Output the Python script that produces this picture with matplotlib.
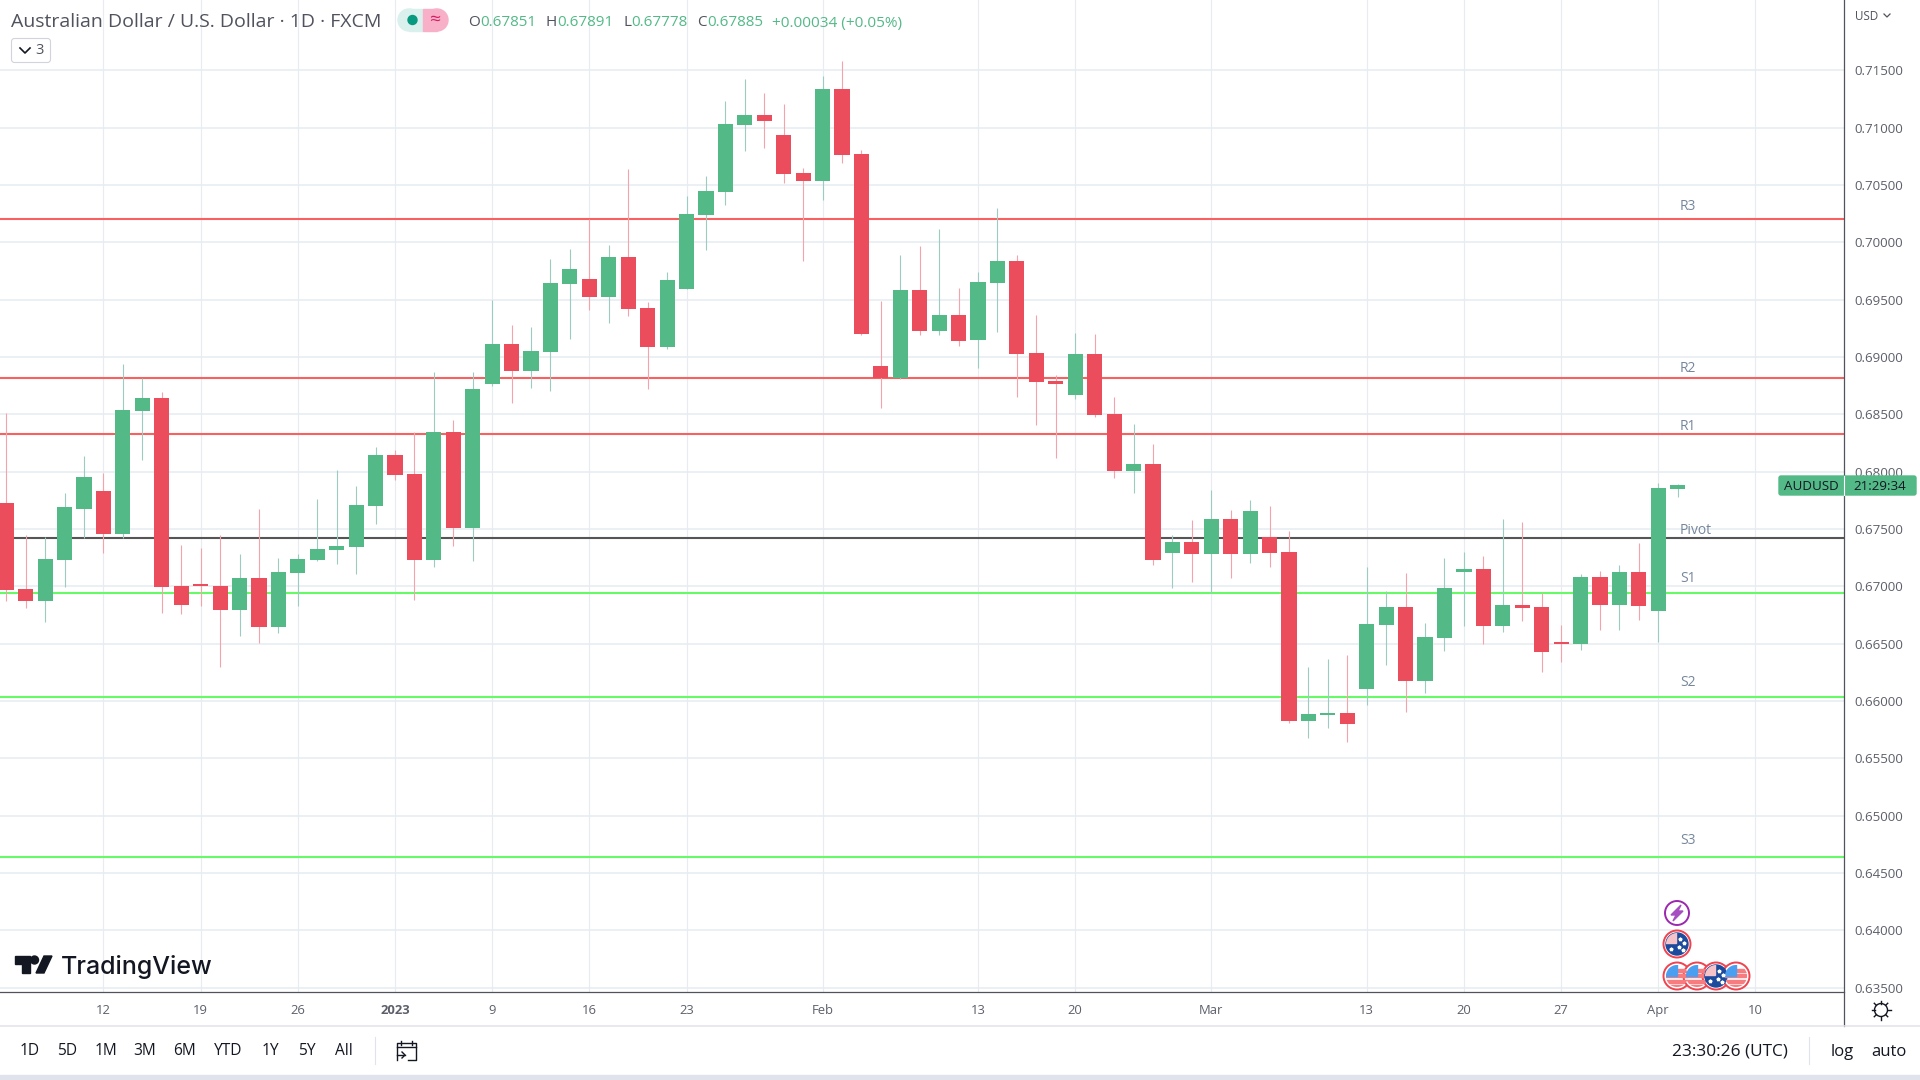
"""AUD/USD daily candles with pivot levels, TradingView look."""

import matplotlib

matplotlib.use("Agg")

import matplotlib.pyplot as plt
import numpy as np
import pandas as pd
from matplotlib.patches import Circle, FancyBboxPatch, Polygon, Rectangle

plt.rcParams["font.family"] = ["Open Sans", "DejaVu Sans"]

first_session = "2022-12-05"

opens = [
    0.67725, 0.66979, 0.66874, 0.67231, 0.67676, 0.67830, 0.67458, 0.68530, 0.68641, 0.67003,
    0.67012, 0.67003, 0.66796, 0.67075, 0.66646, 0.67117, 0.67231, 0.67318, 0.67345, 0.67701,
    0.68146, 0.67980, 0.67231, 0.68347, 0.67509, 0.68764, 0.69113, 0.68878, 0.69047, 0.69635,
    0.69680, 0.69524, 0.69872, 0.69428, 0.69086, 0.69593, 0.70239, 0.70437, 0.71023, 0.71110,
    0.70935, 0.70605, 0.70533, 0.71338, 0.70770, 0.68920, 0.68815, 0.69584, 0.69227, 0.69365,
    0.69149, 0.69644, 0.69836, 0.69035, 0.68794, 0.68668, 0.69026, 0.68503, 0.68005, 0.68068,
    0.67291, 0.67387, 0.67282, 0.67587, 0.67282, 0.67428, 0.67300, 0.65826, 0.65880, 0.65898,
    0.66105, 0.66664, 0.66820, 0.66177, 0.66550, 0.67126, 0.67153, 0.66655, 0.66838, 0.66820,
    0.66517, 0.66493, 0.67084, 0.66838, 0.67126, 0.66787, 0.67851,
]
highs = [
    0.68509, 0.67450, 0.67430, 0.67812, 0.68134, 0.67989, 0.68938, 0.68818, 0.68698, 0.67360,
    0.67330, 0.67450, 0.67282, 0.67674, 0.67249, 0.67285, 0.67764, 0.68014, 0.67872, 0.68215,
    0.68185, 0.68344, 0.68869, 0.68449, 0.68869, 0.69497, 0.69278, 0.69260, 0.69854, 0.69941,
    0.70203, 0.69977, 0.70638, 0.69479, 0.69740, 0.70404, 0.70578, 0.71233, 0.71425, 0.71302,
    0.71206, 0.70647, 0.71446, 0.71581, 0.70803, 0.69488, 0.69890, 0.69968, 0.70116, 0.69602,
    0.69740, 0.70299, 0.69890, 0.69365, 0.68839, 0.69209, 0.69200, 0.68650, 0.68416, 0.68245,
    0.67450, 0.67578, 0.67839, 0.67662, 0.67752, 0.67698, 0.67482, 0.66297, 0.66366, 0.66402,
    0.67171, 0.66961, 0.67117, 0.66682, 0.67249, 0.67300, 0.67267, 0.67587, 0.67560, 0.66940,
    0.66664, 0.67105, 0.67135, 0.67186, 0.67378, 0.67899, 0.67891,
]
lows = [
    0.66874, 0.66814, 0.66691, 0.66991, 0.67420, 0.67291, 0.67420, 0.68101, 0.66769, 0.66760,
    0.66829, 0.66297, 0.66568, 0.66507, 0.66595, 0.66829, 0.67220, 0.67195, 0.67108, 0.67542,
    0.67930, 0.66883, 0.67171, 0.67354, 0.67222, 0.68750, 0.68599, 0.68728, 0.68704, 0.69158,
    0.69410, 0.69296, 0.69356, 0.68720, 0.69065, 0.69593, 0.69932, 0.70326, 0.70797, 0.70821,
    0.70518, 0.69836, 0.70368, 0.70692, 0.69191, 0.68554, 0.68806, 0.69191, 0.69191, 0.69095,
    0.68905, 0.69218, 0.68650, 0.68407, 0.68119, 0.68629, 0.68479, 0.67944, 0.67812, 0.67189,
    0.66988, 0.67039, 0.66946, 0.67075, 0.67204, 0.67171, 0.65805, 0.65679, 0.65766, 0.65643,
    0.65967, 0.66315, 0.65901, 0.66072, 0.66438, 0.66655, 0.66499, 0.66604, 0.66700, 0.66255,
    0.66342, 0.66447, 0.66622, 0.66622, 0.66709, 0.66517, 0.67778,
]
closes = [
    0.66970, 0.66874, 0.67240, 0.67692, 0.67953, 0.67458, 0.68536, 0.68641, 0.66997, 0.66838,
    0.67000, 0.66796, 0.67075, 0.66646, 0.67126, 0.67240, 0.67327, 0.67354, 0.67710, 0.68146,
    0.67971, 0.67231, 0.68347, 0.67509, 0.68719, 0.69113, 0.68878, 0.69053, 0.69644, 0.69767,
    0.69524, 0.69872, 0.69419, 0.69086, 0.69671, 0.70248, 0.70446, 0.71032, 0.71110, 0.71059,
    0.70596, 0.70533, 0.71338, 0.70761, 0.69200, 0.68815, 0.69584, 0.69227, 0.69365, 0.69140,
    0.69653, 0.69836, 0.69026, 0.68783, 0.68764, 0.69026, 0.68494, 0.68005, 0.68068, 0.67231,
    0.67387, 0.67282, 0.67587, 0.67282, 0.67656, 0.67291, 0.65826, 0.65889, 0.65898, 0.65802,
    0.66673, 0.66820, 0.66177, 0.66559, 0.66988, 0.67153, 0.66655, 0.66838, 0.66814, 0.66430,
    0.66493, 0.67084, 0.66838, 0.67126, 0.66829, 0.67857, 0.67885,
]

level_names = ["R3", "R2", "R1", "Pivot", "S1", "S2", "S3"]
level_values = [0.70203, 0.68815, 0.68329, 0.67422, 0.66943, 0.66036, 0.64643]
level_colors = ["#f96060", "#f96060", "#f96060", "#555555", "#66fa66", "#66fa66", "#66fa66"]
level_label_y = [206, 368, 426, 531, 578, 682, 841]

price_ticks = [0.635, 0.64, 0.645, 0.65, 0.655, 0.66, 0.665, 0.67, 0.675, 0.68,
               0.685, 0.69, 0.695, 0.70, 0.705, 0.71, 0.715]
tick_dates = ["2022-12-12", "2022-12-19", "2022-12-26", "2023-01-02", "2023-01-09",
              "2023-01-16", "2023-01-23", "2023-02-01", "2023-02-13", "2023-02-20",
              "2023-03-01", "2023-03-13", "2023-03-20", "2023-03-27", "2023-04-03",
              "2023-04-10"]
tick_labels = ["12", "19", "26", "2023", "9", "16", "23", "Feb", "13", "20",
               "Mar", "13", "20", "27", "Apr", "10"]
range_buttons = ["1D", "5D", "1M", "3M", "6M", "YTD", "1Y", "5Y", "All"]
range_button_x = [30, 67, 106, 145, 184, 228, 270, 307, 344]

UP = "#53b987"
DOWN = "#eb4d5c"
UP_WICK = "#9ccbc0"
DOWN_WICK = "#f5a3ab"
GRID = "#e6ecf2"
INK = "#131722"
AXIS_TEXT = "#5d606b"

o = np.array(opens)
h = np.array(highs)
l = np.array(lows)
c = np.array(closes)
idx = np.arange(len(o))
up = c >= o
sessions = pd.bdate_range(first_session, periods=len(o) + 20)

fig = plt.figure(figsize=(19.2, 10.8), dpi=100, facecolor="white")
ax = fig.add_axes([0, 88 / 1080, 1843.5 / 1920, 992 / 1080])
ax.set_ylim(0.63463, 0.72112)

# session 0 sits at 6.3 px, 19.435 px per session
ax.set_xlim(-6.3 / 19.435, (1843.5 - 6.3) / 19.435)

tick_pos = [sessions.get_loc(pd.Timestamp(d)) for d in tick_dates]
ax.set_xticks(tick_pos)
ax.set_xticklabels(tick_labels, fontsize=9.4, color=AXIS_TEXT)
for lab, name in zip(ax.get_xticklabels(), tick_labels):
    if name == "2023":
        lab.set_fontweight("bold")
ax.set_yticks(price_ticks)
ax.set_yticklabels([f"{p:.5f}" for p in price_ticks], fontsize=9.6, color=AXIS_TEXT)
ax.yaxis.tick_right()
ax.tick_params(axis="both", length=0)
ax.tick_params(axis="x", pad=8.5)
ax.tick_params(axis="y", pad=8)
ax.grid(True, axis="y", color=GRID, linewidth=1.1, zorder=0)
ax.grid(True, axis="x", color=GRID, linewidth=0.8, zorder=0)
ax.set_axisbelow(True)
for name in ["top", "left", "right"]:
    ax.spines[name].set_visible(False)
ax.spines["bottom"].set_color("#50535e")
ax.spines["bottom"].set_linewidth(0.9)

for value, color in zip(level_values, level_colors):
    ax.axhline(value, color=color, linewidth=1.5, zorder=1)

ax.vlines(idx[up], l[up], h[up], color=UP_WICK, linewidth=0.8, zorder=2)
ax.vlines(idx[~up], l[~up], h[~up], color=DOWN_WICK, linewidth=0.8, zorder=2)
body_low = np.minimum(o, c)
body_height = np.maximum(np.abs(c - o), 0.00016)
ax.bar(idx, body_height, bottom=body_low, width=0.78, zorder=3,
       color=[UP if u else DOWN for u in up], linewidth=0)

# everything around the plot is placed in screen pixels
ui = fig.add_axes([0, 0, 1, 1], facecolor="none", zorder=5)
ui.set_xlim(0, 1920)
ui.set_ylim(1080, 0)
ui.axis("off")


def label(x, y, s, size=9.4, color=INK, ha="center", **kw):
    ui.text(x, y, s, fontsize=size, color=color, ha=ha, va="center", **kw)


def badge(x, y, r=13.5):
    ring = Circle((x, y), r, facecolor="white", edgecolor="#f0434f", linewidth=1.4, zorder=3)
    ui.add_patch(ring)
    return Circle((x, y), r - 2.5, transform=ui.transData)


def us_flag(x, y):
    clip = badge(x, y)
    for k in range(3):
        bar = Rectangle((x - 12, y - 2 + k * 5.5), 24, 3, color="#f77c80", zorder=4)
        ui.add_patch(bar)
        bar.set_clip_path(clip)
    bar = Rectangle((x, y - 7), 12, 3, color="#f77c80", zorder=4)
    ui.add_patch(bar)
    bar.set_clip_path(clip)
    canton = Rectangle((x - 12, y - 12), 11.5, 11.5, color="#4a9ff0", zorder=5)
    ui.add_patch(canton)
    canton.set_clip_path(clip)


def au_flag(x, y):
    clip = badge(x, y)
    field = Circle((x, y), 11, color="#1c4a9c", zorder=4)
    ui.add_patch(field)
    corner = Rectangle((x - 12, y - 12), 10.5, 10.5, color="#f6c3c9", zorder=5)
    ui.add_patch(corner)
    corner.set_clip_path(clip)
    ui.plot([x + 3, x + 7, x + 2, x + 6, x - 6], [y - 5, y - 1, y + 3, y + 6, y + 5],
            ls="none", marker="*", ms=2.6, color="white", zorder=6)


# header
label(11, 22, "Australian Dollar / U.S. Dollar · 1D · FXCM", size=14, color="#50535e", ha="left")
ui.add_patch(Circle((409, 20), 11, color="#d9f0ec", zorder=1))
ui.add_patch(Rectangle((409, 9), 14, 22, color="#d9f0ec", zorder=1))
ui.add_patch(Circle((437, 20), 11, color="#f7b0c8", zorder=2))
ui.add_patch(Rectangle((423, 9), 14, 22, color="#f7b0c8", zorder=2))
ui.add_patch(Circle((412.5, 20), 4.5, color="#089981", zorder=3))
label(435, 20, "≈", size=14, color="#d81b60", zorder=3)

for letter, value, x_value in [("O", "0.67851", 480.6), ("H", "0.67891", 557.7),
                               ("L", "0.67778", 631.7), ("C", "0.67885", 706.8)]:
    label(x_value - 0.5, 23, letter, size=11, color="#50535e", ha="right")
    label(x_value, 23, value, size=11, color=UP, ha="left")
label(772, 23, "+0.00034 (+0.05%)", size=11.1, color=UP, ha="left")

ui.add_patch(FancyBboxPatch((11.5, 38.5), 39, 24, boxstyle="round,pad=0,rounding_size=3",
                            facecolor="white", edgecolor="#d1d4dc", linewidth=0.8))
ui.plot([20, 25, 30], [48, 53, 48], color=INK, linewidth=1.2)
label(40, 50, "3", size=10.5, color="#50535e")

# price axis furniture
ui.plot([1843.5, 1843.5], [0, 1026], color="#50535e", linewidth=0.9)
label(1855, 16, "USD", size=8.4, color="#50535e", ha="left")
ui.plot([1884, 1887, 1890], [14, 17, 14], color="#50535e", linewidth=0.9)
for name, y in zip(level_names, level_label_y):
    label(1680, y, name, size=10, color="#76879b", ha="left")

ui.add_patch(FancyBboxPatch((1779, 476), 137, 19, boxstyle="round,pad=0,rounding_size=2", color=UP, zorder=6))
ui.plot([1843.5, 1843.5], [476, 495], color="white", linewidth=0.8, zorder=7)
label(1811, 486, "AUDUSD", size=9.6, zorder=7)
label(1880, 486, "21:29:34", size=9.6, zorder=7)

# event badges
ui.add_patch(Circle((1677, 913), 12, facecolor="white", edgecolor="#9c27b0", linewidth=1.4, zorder=3))
ui.add_patch(Polygon([(1681, 905), (1671, 915), (1676, 915), (1673, 921), (1683, 911), (1678, 911)],
                     color="#a64fc0", zorder=4))
au_flag(1677, 944)
us_flag(1677, 976)
us_flag(1697, 976)
au_flag(1716, 976)
us_flag(1736, 976)

# logo
ui.add_patch(Polygon([(15, 956), (30, 956), (30, 973), (22, 973), (22, 964), (15, 964)], color=INK))
ui.add_patch(Circle((34.5, 960), 4, color=INK))
ui.add_patch(Polygon([(44, 956), (52, 956), (44, 973), (36, 973)], color=INK))
label(61, 967, "TradingView", size=18, color=INK, ha="left", family="Inter", fontweight="medium")

# bottom strips
ui.plot([0, 1920], [1026, 1026], color="#e0e3eb", linewidth=1.1)
ui.add_patch(Rectangle((0, 1075), 1920, 5, color="#e0e3eb"))
for x, s in zip(range_button_x, range_buttons):
    label(x, 1051, s, size=11.2)
ui.plot([375, 375], [1037, 1064], color="#e0e3eb", linewidth=0.8)
ui.plot([1809, 1809], [1037, 1064], color="#e0e3eb", linewidth=0.8)

# go-to-date icon
ui.plot([397, 397, 416, 416, 408], [1060, 1043, 1043, 1060, 1060], color=INK, linewidth=1)
ui.plot([397, 416], [1047, 1047], color=INK, linewidth=1)
ui.plot([401, 401], [1041, 1045], color=INK, linewidth=1)
ui.plot([412, 412], [1041, 1045], color=INK, linewidth=1)
ui.plot([397, 405], [1055, 1055], color=INK, linewidth=1)
ui.plot([402, 405, 402], [1052, 1055, 1058], color=INK, linewidth=1)

label(1730, 1051, "23:30:26 (UTC)", size=12.4)
label(1842, 1052, "log", size=12)
label(1889, 1052, "auto", size=12)

# settings icon
ui.add_patch(Circle((1881, 1010), 6.5, facecolor="white", edgecolor=INK, linewidth=1))
for a in np.deg2rad(np.arange(0, 360, 45)):
    ui.plot([1881 + 6.5 * np.cos(a), 1881 + 9.5 * np.cos(a)],
            [1010 + 6.5 * np.sin(a), 1010 + 9.5 * np.sin(a)], color=INK, linewidth=1)

fig.savefig("out.png", dpi=100)
